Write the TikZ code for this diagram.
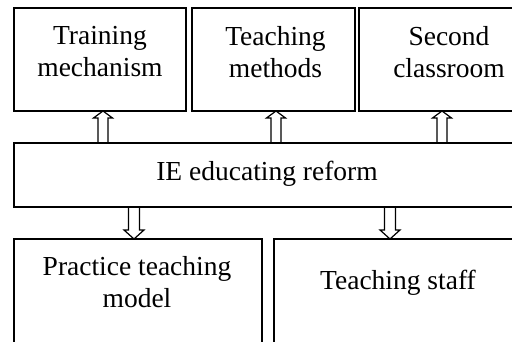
\documentclass[tikz,border=0pt]{standalone}
\usepackage{fontspec}
\setmainfont{Liberation Serif}
\usetikzlibrary{calc}
\newcommand\UpBlock[3]{%
  \draw[arr] let \p1=(#2.north), \p2=(#3.south) in
    (#1-5,\y1) -- (#1-5,\y2-7) -- (#1-9.5,\y2-7) -- (#1,\y2) -- (#1+9.5,\y2-7) -- (#1+5,\y2-7) -- (#1+5,\y1) -- cycle;}
\newcommand\DownBlock[3]{%
  \draw[arr] let \p1=(#2.south), \p2=(#3.north) in
    (#1-5.5,\y1) -- (#1-5.5,\y2+9) -- (#1-10,\y2+9) -- (#1,\y2) -- (#1+10,\y2+9) -- (#1+5.5,\y2+9) -- (#1+5.5,\y1) -- cycle;}
\begin{document}
\begin{tikzpicture}[x=1pt,y=1pt,
  box/.style={draw, line width=1.5pt, inner sep=0pt, outer sep=0pt, anchor=south west},
  txt/.style={font=\fontsize{27.5}{32}\selectfont, align=center, inner sep=0pt},
  arr/.style={draw, line width=1.2pt, line join=miter}]
\useasboundingbox (0,0) rectangle (512,342);
\clip (0,0) rectangle (512,342);
% top boxes
\node[box, minimum width=172, minimum height=103] (b1) at (14,231) {};
\node[box, minimum width=163, minimum height=103] (b2) at (192,231) {};
\node[box, minimum width=180, minimum height=103] (b3) at (359,231) {};
% middle box
\node[box, minimum width=506, minimum height=64] (m) at (14,135) {};
% bottom boxes
\node[box, minimum width=248, minimum height=123] (p1) at (14,-20) {};
\node[box, minimum width=248, minimum height=123] (p2) at (274,-20) {};
% texts
\node[txt, anchor=north] (t1) at ($(b1.north)+(0,-18.2)$) {Training\\mechanism};
\node[txt, anchor=north] (t2) at ($(b2.north)+(2,-18.2)$) {Teaching\\methods};
\node[txt, anchor=north] (t3) at ($(b3.north)+(0,-18.2)$) {Second\\classroom};
\node[txt, anchor=base] (tm) at (267,161) {IE educating reform};
\node[txt, anchor=north] (tp1) at ($(p1.north)+(-1,-17.2)$) {Practice teaching\\model};
\node[txt, anchor=base] (tp2) at (398,52) {Teaching staff};
% arrows
\UpBlock{103}{m}{b1}
\UpBlock{276}{m}{b2}
\UpBlock{442}{m}{b3}
\DownBlock{134}{m}{p1}
\DownBlock{390}{m}{p2}
\end{tikzpicture}
\end{document}
